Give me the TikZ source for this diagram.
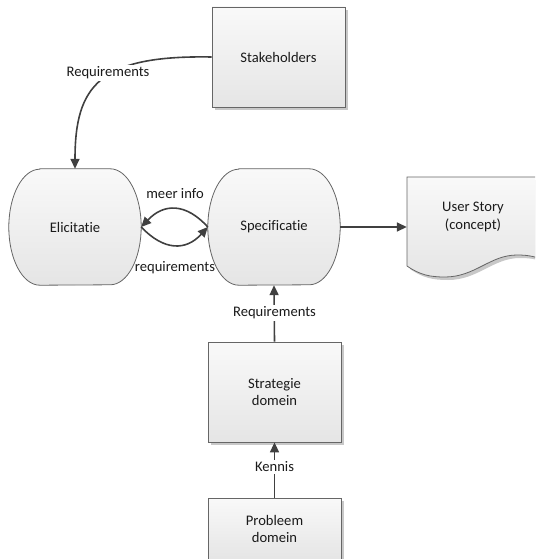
\documentclass[tikz,border=0pt]{standalone}
\usepackage{fontspec}
\setmainfont{Carlito}[Ligatures=NoCommon]
\usetikzlibrary{arrows.meta,shadows,backgrounds}
\definecolor{linec}{HTML}{404040}
\definecolor{edgec}{HTML}{666666}
\definecolor{topc}{HTML}{F9F9F9}
\definecolor{botc}{HTML}{E5E5E5}
\definecolor{shadc}{HTML}{C8C8C8}
\definecolor{textc}{HTML}{1A1A1A}

% outline of a process shape: flat top and bottom, half-elliptic sides
\def\procpath#1{([xshift=31pt]#1.north west) -- ([xshift=-31pt]#1.north east)
  arc[start angle=90, end angle=-90, x radius=31pt, y radius=58pt]
  -- ([xshift=31pt]#1.south west)
  arc[start angle=270, end angle=90, x radius=31pt, y radius=58pt] -- cycle}

% outline of the document shape with its wavy lower edge
\def\docpath{(407,177) -- (545,177) -- (545,260)
    .. controls (535,257) and (530,255) .. (517,255)
    .. controls (490,255) and (475,277) .. (445,277)
    .. controls (430,277) and (420,275) .. (407,266) -- cycle}

\begin{document}
\begin{tikzpicture}[x=1pt,y=-1pt,
  every node/.style={font=\fontsize{14.6}{17.5}\selectfont, text=textc, align=center},
  box/.style={draw=edgec, line width=0.8pt, top color=topc, bottom color=botc,
    minimum width=133pt, minimum height=100pt, inner sep=0pt,
    drop shadow={shadow xshift=3pt, shadow yshift=-3pt, fill=shadc, opacity=1}},
  procnode/.style={minimum width=132pt, minimum height=116pt, inner sep=0pt},
  procfill/.style={draw=edgec, line width=0.8pt, top color=topc, bottom color=botc},
  arr/.style={draw=linec, line width=1.6pt, -{Triangle[length=10pt,width=9pt]}},
  lbl/.style={fill=white, inner sep=1.5pt}]

\path[use as bounding box] (0,0) rectangle (535,559);
\clip (0,0) rectangle (535,559);

% rectangular boxes
\node[box] (stake) at (278.5,57) {Stakeholders};
\node[box] (strat) at (274.5,392) {Strategie\\domein};
\node[box, minimum height=62pt] (prob) at (274.5,529) {Probleem\\domein};

% process shapes and the document shape
\node[procnode] (eli) at (75,227) {Elicitatie};
\node[procnode] (spec) at (274,227) {Specificatie};
\node[inner sep=0pt, minimum width=132pt] (docu) at (473,217) {User Story\\(concept)};

\begin{scope}[on background layer]
  \clip (0,0) rectangle (535,559);
  \fill[shadc, shift={(3pt,-3pt)}] \procpath{eli};
  \fill[shadc, shift={(3pt,-3pt)}] \procpath{spec};
  \path[procfill] \procpath{eli};
  \path[procfill] \procpath{spec};
  \fill[shadc, shift={(3pt,-3pt)}] \docpath;
  \path[procfill] \docpath;
\end{scope}

% connectors
\draw[arr] (stake.west) .. controls (100,55) and (75,85) .. (eli.north);
\draw[arr] (spec.west) .. controls (186,203) and (164,203) .. (eli.east);
\draw[arr] (eli.east) .. controls (164,251) and (186,251) .. (spec.west);
\draw[arr] (spec.east) -- (spec.east -| docu.west);
\draw[arr] (strat.north) -- (spec.south);
\draw[arr] (prob.north) -- (strat.south);

% connector labels
\node[lbl] (lstake) at (108,73) {Requirements};
\node (lmeer) at (175,194) {meer info};
\node (lreqs) at (175,268) {requirements};
\node[lbl] (lstrat) at (274.5,313) {Requirements};
\node[lbl] (lkennis) at (274.5,467) {Kennis};
\end{tikzpicture}
\end{document}
